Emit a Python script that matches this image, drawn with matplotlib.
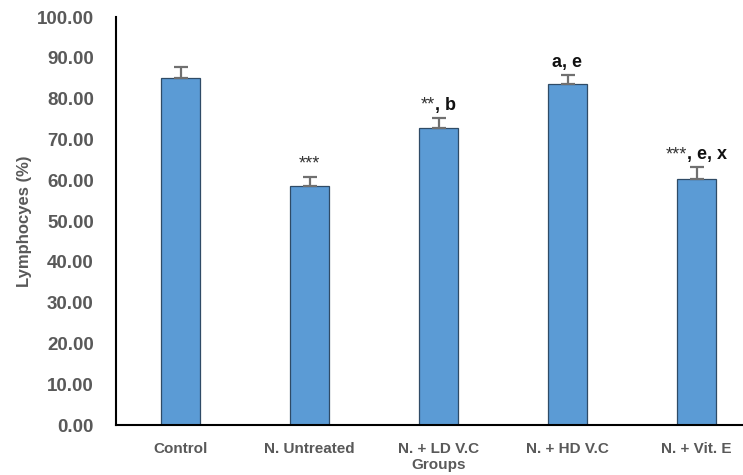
import matplotlib
matplotlib.use("Agg")
from matplotlib import pyplot as plt
from matplotlib.offsetbox import TextArea, HPacker, AnnotationBbox
import numpy as np

# Donnees
groupes = ["Control", "N. Untreated", "N. + LD V.C", "N. + HD V.C", "N. + Vit. E"]
moyennes = [85.1, 58.7, 72.9, 83.7, 60.3]
erreurs = [2.7, 2.2, 2.4, 2.1, 2.9]
etoiles = ["", "***", "**", "", "***"]
lettres = ["", "", ", b", "a, e", ", e, x"]
yticks = [0, 10, 20, 30, 40, 50, 60, 70, 80, 90, 100]

plt.rcParams['font.family'] = ['Liberation Sans', 'DejaVu Sans']

fig = plt.figure(figsize=(7.43, 4.75), dpi=100)
ax = fig.add_axes([116/743, 1-425/475, 645/743, 408/475])

x = np.arange(len(groupes))
ax.bar(x, moyennes, width=0.31, color='#5B9BD5', edgecolor='#2F4B66', linewidth=0.9, zorder=2)
ax.errorbar(x, moyennes, yerr=[np.zeros(len(erreurs)), erreurs], fmt='none',
            ecolor='#707070', elinewidth=1.6, capsize=5, capthick=1.6, zorder=3)

# annotations : etoiles en normal, lettres en gras
for xi, m, e, s, l in zip(x, moyennes, erreurs, etoiles, lettres):
    morceaux = []
    if s:
        morceaux.append(TextArea(s, textprops=dict(fontsize=13, color='#333333')))
    if l:
        morceaux.append(TextArea(l, textprops=dict(fontsize=13, fontweight='bold', color='#111111')))
    if not morceaux:
        continue
    boite = HPacker(children=morceaux, align='baseline', pad=0, sep=0)
    ab = AnnotationBbox(boite, (xi, m + e + 1.0), box_alignment=(0.5, 0), frameon=False,
                        pad=0, annotation_clip=False)
    ax.add_artist(ab)

ax.set_xlim(-0.5, 4.5)
ax.set_ylim(0, 100)
ax.set_yticks(yticks)
ax.set_yticklabels(["%.2f" % v for v in yticks], fontsize=13.5, fontweight='bold', color='#595959')
ax.set_xticks(x)
ax.set_xticklabels(groupes, fontsize=11, fontweight='bold', color='#595959')
ax.tick_params(axis='both', length=0)
ax.tick_params(axis='y', pad=16)
ax.tick_params(axis='x', pad=12)

ax.spines['top'].set_visible(False)
ax.spines['right'].set_visible(False)
ax.spines['left'].set_linewidth(1.5)
ax.spines['bottom'].set_linewidth(1.5)
ax.spines['left'].set_color('black')
ax.spines['bottom'].set_color('black')

ax.set_ylabel("Lymphocyes (%)", fontsize=12, fontweight='bold', color='#595959', labelpad=3)
ax.set_xlabel("Groups", fontsize=11, fontweight='bold', color='#595959')
ax.xaxis.set_label_coords(0.5, -0.082)

fig.savefig('out.png', dpi=100)
